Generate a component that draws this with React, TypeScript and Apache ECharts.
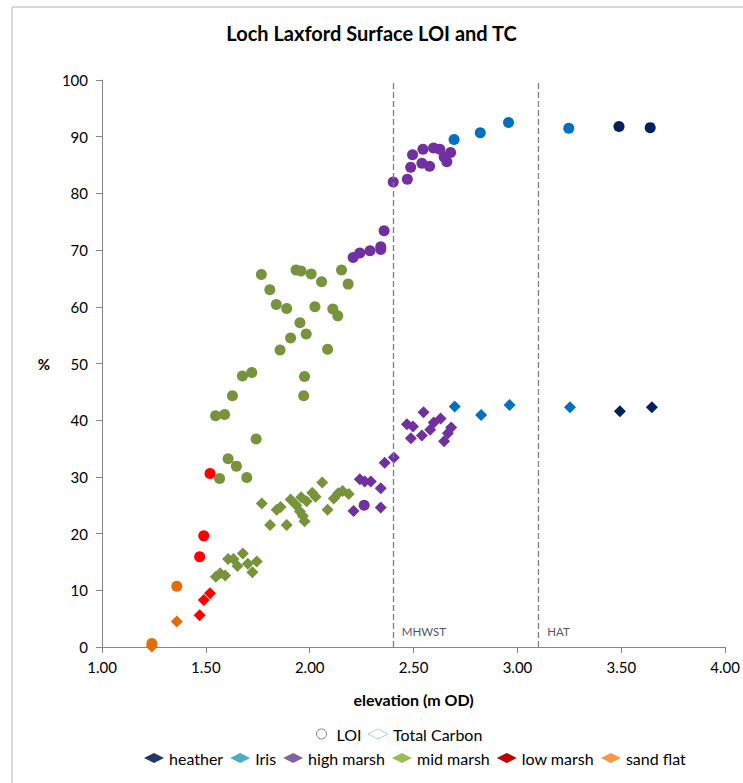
import React, { useEffect, useRef } from "react";
import * as echarts from "echarts";

// elevation (m OD), value (%)
const sandLOI = [[1.24, 0.6], [1.36, 10.7]];
const sandTC = [[1.24, 0.1], [1.36, 4.5]];
const lowLOI = [[1.47, 15.9], [1.49, 19.6], [1.52, 30.6]];
const lowTC = [[1.47, 5.6], [1.49, 8.3], [1.52, 9.5]];
const midLOI = [
  [1.767, 65.7], [1.808, 63.0], [1.839, 60.4], [1.889, 59.7], [1.934, 66.5], [1.958, 66.3],
  [2.007, 65.8], [2.057, 64.4], [2.153, 66.5], [2.185, 64.0], [2.025, 60.0], [2.111, 59.6],
  [2.135, 58.4], [1.953, 57.2], [1.983, 55.2], [1.908, 54.5], [1.857, 52.4], [2.086, 52.5],
  [1.676, 47.8], [1.721, 48.4], [1.975, 47.7], [1.628, 44.3], [1.971, 44.3], [1.547, 40.8],
  [1.59, 41.0], [1.742, 36.7], [1.607, 33.2], [1.647, 31.9], [1.566, 29.7], [1.697, 29.9],
];
const midTC = [
  [1.769, 25.3], [1.841, 24.2], [1.86, 24.7], [1.809, 21.5], [1.889, 21.5],
  [1.607, 15.5], [1.633, 15.5], [1.678, 16.5], [1.652, 14.3], [1.702, 14.7], [1.745, 15.1],
  [1.724, 13.2], [1.548, 12.4], [1.569, 13.0], [1.593, 12.6],
  [1.908, 26.0], [1.935, 25.0], [1.959, 26.4], [1.985, 25.7], [1.953, 23.9], [1.967, 23.1],
  [1.975, 22.2], [2.012, 27.2], [2.028, 26.5], [2.06, 29.0], [2.086, 24.2], [2.116, 26.2],
  [2.137, 27.1], [2.158, 27.5], [2.188, 27.0],
];
const highLOI = [
  [2.402, 82.0], [2.47, 82.5], [2.486, 84.6], [2.495, 86.8], [2.545, 87.8], [2.54, 85.3],
  [2.577, 84.8], [2.596, 88.0], [2.626, 87.8], [2.647, 86.4], [2.66, 85.6], [2.678, 87.2],
  [2.358, 73.4], [2.342, 70.6], [2.342, 70.1], [2.29, 69.9], [2.241, 69.5], [2.209, 68.7],
  [2.262, 25.0],
];
const highTC = [
  [2.211, 24.0], [2.241, 29.6], [2.265, 29.2], [2.294, 29.2], [2.342, 28.0], [2.342, 24.6],
  [2.361, 32.5], [2.405, 33.4], [2.548, 41.4], [2.468, 39.3], [2.497, 38.9], [2.487, 36.8],
  [2.54, 37.3], [2.58, 38.3], [2.597, 39.6], [2.63, 40.3], [2.681, 38.7], [2.665, 37.7],
  [2.647, 36.3],
];
const irisLOI = [[2.695, 89.5], [2.821, 90.7], [2.957, 92.5], [3.247, 91.5]];
const irisTC = [[2.698, 42.4], [2.825, 40.9], [2.962, 42.7], [3.253, 42.3]];
const heatherLOI = [[3.489, 91.8], [3.639, 91.6]];
const heatherTC = [[3.493, 41.6], [3.647, 42.3]];

const refLines = [[2.4, 2.7, "MHWST"], [3.1, 2.7, "HAT"]];

const groups = [
  { name: "heather", loi: heatherLOI, tc: heatherTC, color: "#002060", legend: "#1f3864" },
  { name: "Iris", loi: irisLOI, tc: irisTC, color: "#0070c0", legend: "#4bacc6" },
  { name: "high marsh", loi: highLOI, tc: highTC, color: "#7030a0", legend: "#8064a2" },
  { name: "mid marsh", loi: midLOI, tc: midTC, color: "#77933c", legend: "#9bbb59" },
  { name: "low marsh", loi: lowLOI, tc: lowTC, color: "#ff0000", legend: "#c00000" },
  { name: "sand flat", loi: sandLOI, tc: sandTC, color: "#e46c0a", legend: "#f79646" },
];

const FONT = "Lato, 'Open Sans', sans-serif";

export default function App() {
  const ref = useRef<HTMLDivElement>(null);
  useEffect(() => {
    if (!ref.current) return;
    const chart = echarts.init(ref.current, null, { renderer: "svg" });
    const series: any[] = [];
    groups.forEach((g) => {
      series.push({
        name: g.name + " LOI", type: "scatter", data: g.loi, symbol: "circle", symbolSize: 11,
        itemStyle: { color: g.color, opacity: 1 }, silent: true,
      });
      series.push({
        name: g.name + " TC", type: "scatter", data: g.tc, symbol: "diamond", symbolSize: 12,
        itemStyle: { color: g.color, opacity: 1 }, silent: true,
      });
    });
    // legend-only series
    ["LOI", "Total Carbon", ...groups.map((g) => g.name)].forEach((n) => {
      series.push({ name: n, type: "scatter", data: [], itemStyle: { opacity: 1 } });
    });
    series.push({
      name: "refs", type: "scatter", data: refLines, symbolSize: 0, silent: true,
      label: {
        show: true, position: "right", distance: 9, formatter: (p: any) => p.data[2],
        fontFamily: FONT, fontSize: 11.5, color: "#262626",
      },
      markLine: {
        silent: true, symbol: "none", animation: false,
        lineStyle: { color: "#7f7f7f", type: [6, 3], width: 1.3 },
        label: { show: false },
        data: refLines.map((r) => ({ xAxis: r[0] })),
      },
    });

    chart.setOption({
      animation: false,
      backgroundColor: "#ffffff",
      textStyle: { fontFamily: FONT },
      title: {
        text: "Loch Laxford Surface LOI and TC", left: "center", top: 18,
        textStyle: { fontFamily: FONT, fontSize: 20, fontWeight: "bold", color: "#000" },
      },
      graphic: [
        { type: "rect", shape: { x: 12, y: 7, width: 760, height: 800 }, style: { fill: "none", stroke: "#b4b4b4", lineWidth: 1 }, silent: true },
      ],
      grid: { left: 102, right: 15.5, top: 80, bottom: 136 },
      xAxis: {
        type: "value", min: 1, max: 4, interval: 0.5,
        name: "elevation (m OD)", nameLocation: "middle", nameGap: 44,
        nameTextStyle: { fontFamily: FONT, fontSize: 16, fontWeight: "bold", color: "#000" },
        axisLine: { lineStyle: { color: "#868686", width: 1 } },
        axisTick: { show: true, length: 6, lineStyle: { color: "#868686" } },
        axisLabel: { fontFamily: FONT, fontSize: 15, color: "#000", margin: 12, formatter: (v: number) => v.toFixed(2) },
        splitLine: { show: false },
      },
      yAxis: {
        type: "value", min: 0, max: 100, interval: 10,
        name: "%", nameLocation: "middle", nameGap: 52, nameRotate: 0,
        nameTextStyle: { fontFamily: FONT, fontSize: 15, fontWeight: "bold", color: "#000" },
        axisLine: { show: true, lineStyle: { color: "#868686", width: 1 } },
        axisTick: { show: true, length: 6, lineStyle: { color: "#868686" } },
        axisLabel: { fontFamily: FONT, fontSize: 15, color: "#000", margin: 14 },
        splitLine: { show: false },
      },
      legend: [
        {
          left: 311, top: 721, itemWidth: 20, itemHeight: 10, itemGap: 6, symbolKeepAspect: true,
          selectedMode: false,
          textStyle: { fontFamily: FONT, fontSize: 16, color: "#000" },
          data: [
            { name: "LOI", icon: "circle", itemStyle: { color: "#ffffff", borderColor: "#7f7f7f", borderWidth: 1, opacity: 1 } },
            { name: "Total Carbon", icon: "diamond", itemStyle: { color: "#ffffff", borderColor: "#a9d4cf", borderWidth: 1, opacity: 1 } },
          ],
        },
        {
          left: 139, top: 745, itemWidth: 20, itemHeight: 10, itemGap: 7, symbolKeepAspect: true,
          selectedMode: false,
          textStyle: { fontFamily: FONT, fontSize: 16, color: "#000" },
          data: groups.map((g) => ({ name: g.name, icon: "diamond", itemStyle: { color: g.legend, opacity: 1 } })),
        },
      ],
      series,
    });
    return () => chart.dispose();
  }, []);
  return (
    <div
      ref={ref}
      style={{ position: "fixed", left: 0, top: 0, width: 743, height: 783, background: "#fff" }}
    />
  );
}
